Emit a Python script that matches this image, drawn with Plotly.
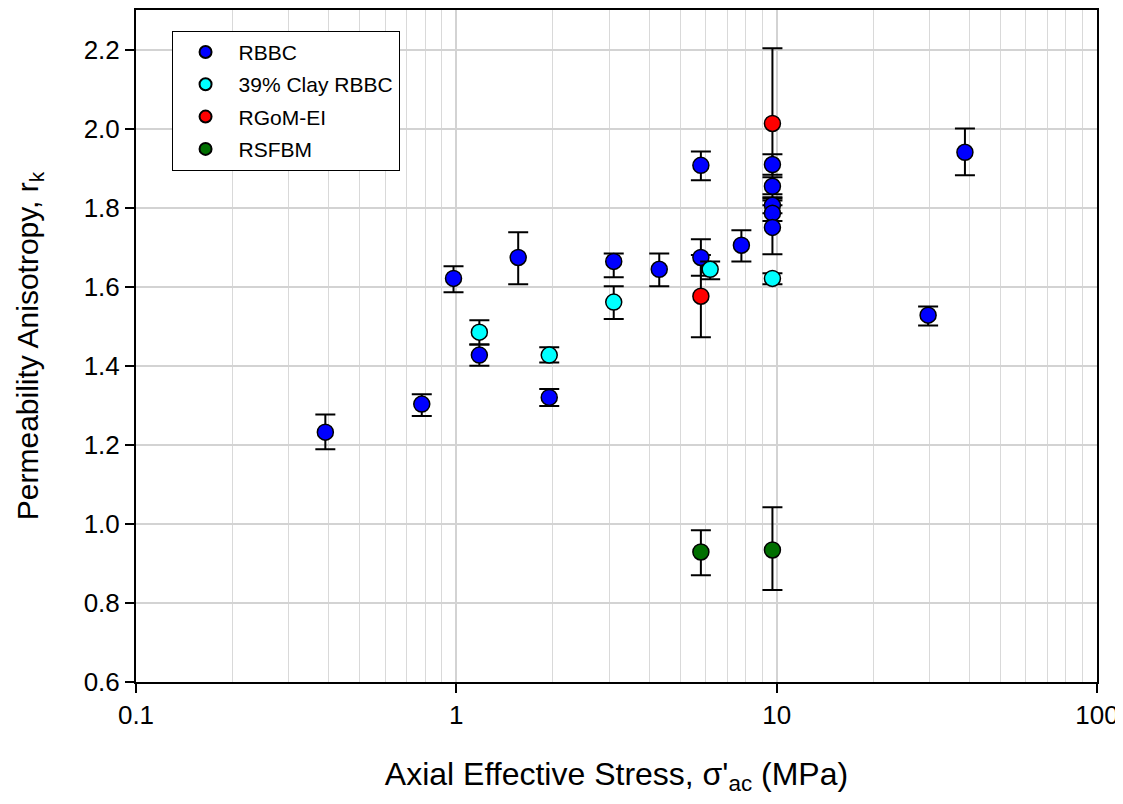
import plotly.graph_objects as go

# RBBC
rbbc_x = [0.39, 0.78, 0.98, 1.18, 1.56, 1.95, 3.1, 4.3, 5.8, 5.8, 7.76, 9.7, 9.7, 9.7, 9.7, 9.7, 29.7, 38.7]
rbbc_y = [1.232, 1.303, 1.621, 1.427, 1.674, 1.32, 1.664, 1.644, 1.907, 1.674, 1.705, 1.909, 1.854, 1.806, 1.786, 1.75, 1.528, 1.940]
rbbc_ep = [0.045, 0.025, 0.031, 0.027, 0.064, 0.021, 0.02, 0.04, 0.035, 0.046, 0.038, 0.026, 0.023, 0.02, 0.02, 0.068, 0.022, 0.06]
rbbc_em = [0.043, 0.03, 0.035, 0.027, 0.068, 0.022, 0.04, 0.043, 0.038, 0.046, 0.041, 0.026, 0.02, 0.02, 0.02, 0.068, 0.026, 0.058]

# 39% Clay RBBC
clay_x = [1.18, 1.95, 3.1, 6.2, 9.7]
clay_y = [1.485, 1.427, 1.561, 1.644, 1.621]
clay_ep = [0.03, 0.02, 0.04, 0.02, 0.013]
clay_em = [0.031, 0.019, 0.043, 0.025, 0.015]

# RGoM-EI
rgom_x = [5.8, 9.7]
rgom_y = [1.576, 2.013]
rgom_ep = [0.104, 0.19]
rgom_em = [0.104, 0.19]

# RSFBM
rsf_x = [5.8, 9.7]
rsf_y = [0.929, 0.934]
rsf_ep = [0.055, 0.108]
rsf_em = [0.059, 0.101]

FONT = "Liberation Sans, Arial, sans-serif"

def trace(name, x, y, ep, em, color, rank):
    return go.Scatter(
        x=x, y=y, mode="markers", name=name, legendrank=rank, legendgroup=name,
        marker=dict(size=16, color=color, line=dict(color="black", width=1.5)),
        error_y=dict(type="data", symmetric=False, array=ep, arrayminus=em,
                     color="black", thickness=2, width=10),
    )

fig = go.Figure()
fig.add_trace(trace("RGoM-EI", rgom_x, rgom_y, rgom_ep, rgom_em, "#FF0000", 3))
fig.add_trace(trace("RSFBM", rsf_x, rsf_y, rsf_ep, rsf_em, "#006F00", 4))
fig.add_trace(trace("RBBC", rbbc_x, rbbc_y, rbbc_ep, rbbc_em, "#0000FF", 1))
fig.add_trace(trace("39% Clay RBBC", clay_x, clay_y, clay_ep, clay_em, "#00FFFF", 2))

fig.update_layout(
    width=1115, height=796,
    margin=dict(l=128, r=26, t=2, b=122),
    paper_bgcolor="white", plot_bgcolor="white",
    font=dict(family=FONT, size=26, color="black"),
    showlegend=True,
    legend=dict(x=0.037, y=0.969, xanchor="left", yanchor="top",
                bordercolor="black", borderwidth=1, bgcolor="white",
                font=dict(size=21, family=FONT), traceorder="grouped",
                tracegroupgap=2, itemwidth=56, itemsizing="constant"),
)

fig.update_xaxes(
    type="log", range=[-1, 2], dtick=1, automargin=False,
    showline=True, linecolor="black", linewidth=2, mirror=True,
    ticks="outside", ticklen=9, tickwidth=2, tickcolor="black",
    showgrid=True, gridcolor="#d3d3d3", gridwidth=1.5,
    minor=dict(showgrid=True, gridcolor="#d9d9d9", gridwidth=1.2, dtick="D1", ticks=""),
    tickfont=dict(size=26),
    title=dict(text="Axial Effective Stress, σ'<sub>ac</sub> (MPa)", font=dict(size=32), standoff=33),
    zeroline=False,
)
fig.update_yaxes(
    range=[0.6, 2.3], tick0=0.6, dtick=0.2, tickformat=".1f", automargin=False,
    showline=True, linecolor="black", linewidth=2, mirror=True,
    ticks="outside", ticklen=9, tickwidth=2, tickcolor="black",
    showgrid=True, gridcolor="#d3d3d3", gridwidth=1.5,
    tickfont=dict(size=26),
    title=dict(text="Permeability Anisotropy, r<sub>k</sub>", font=dict(size=30), standoff=36),
    zeroline=False,
)

fig.write_html("out.html")
